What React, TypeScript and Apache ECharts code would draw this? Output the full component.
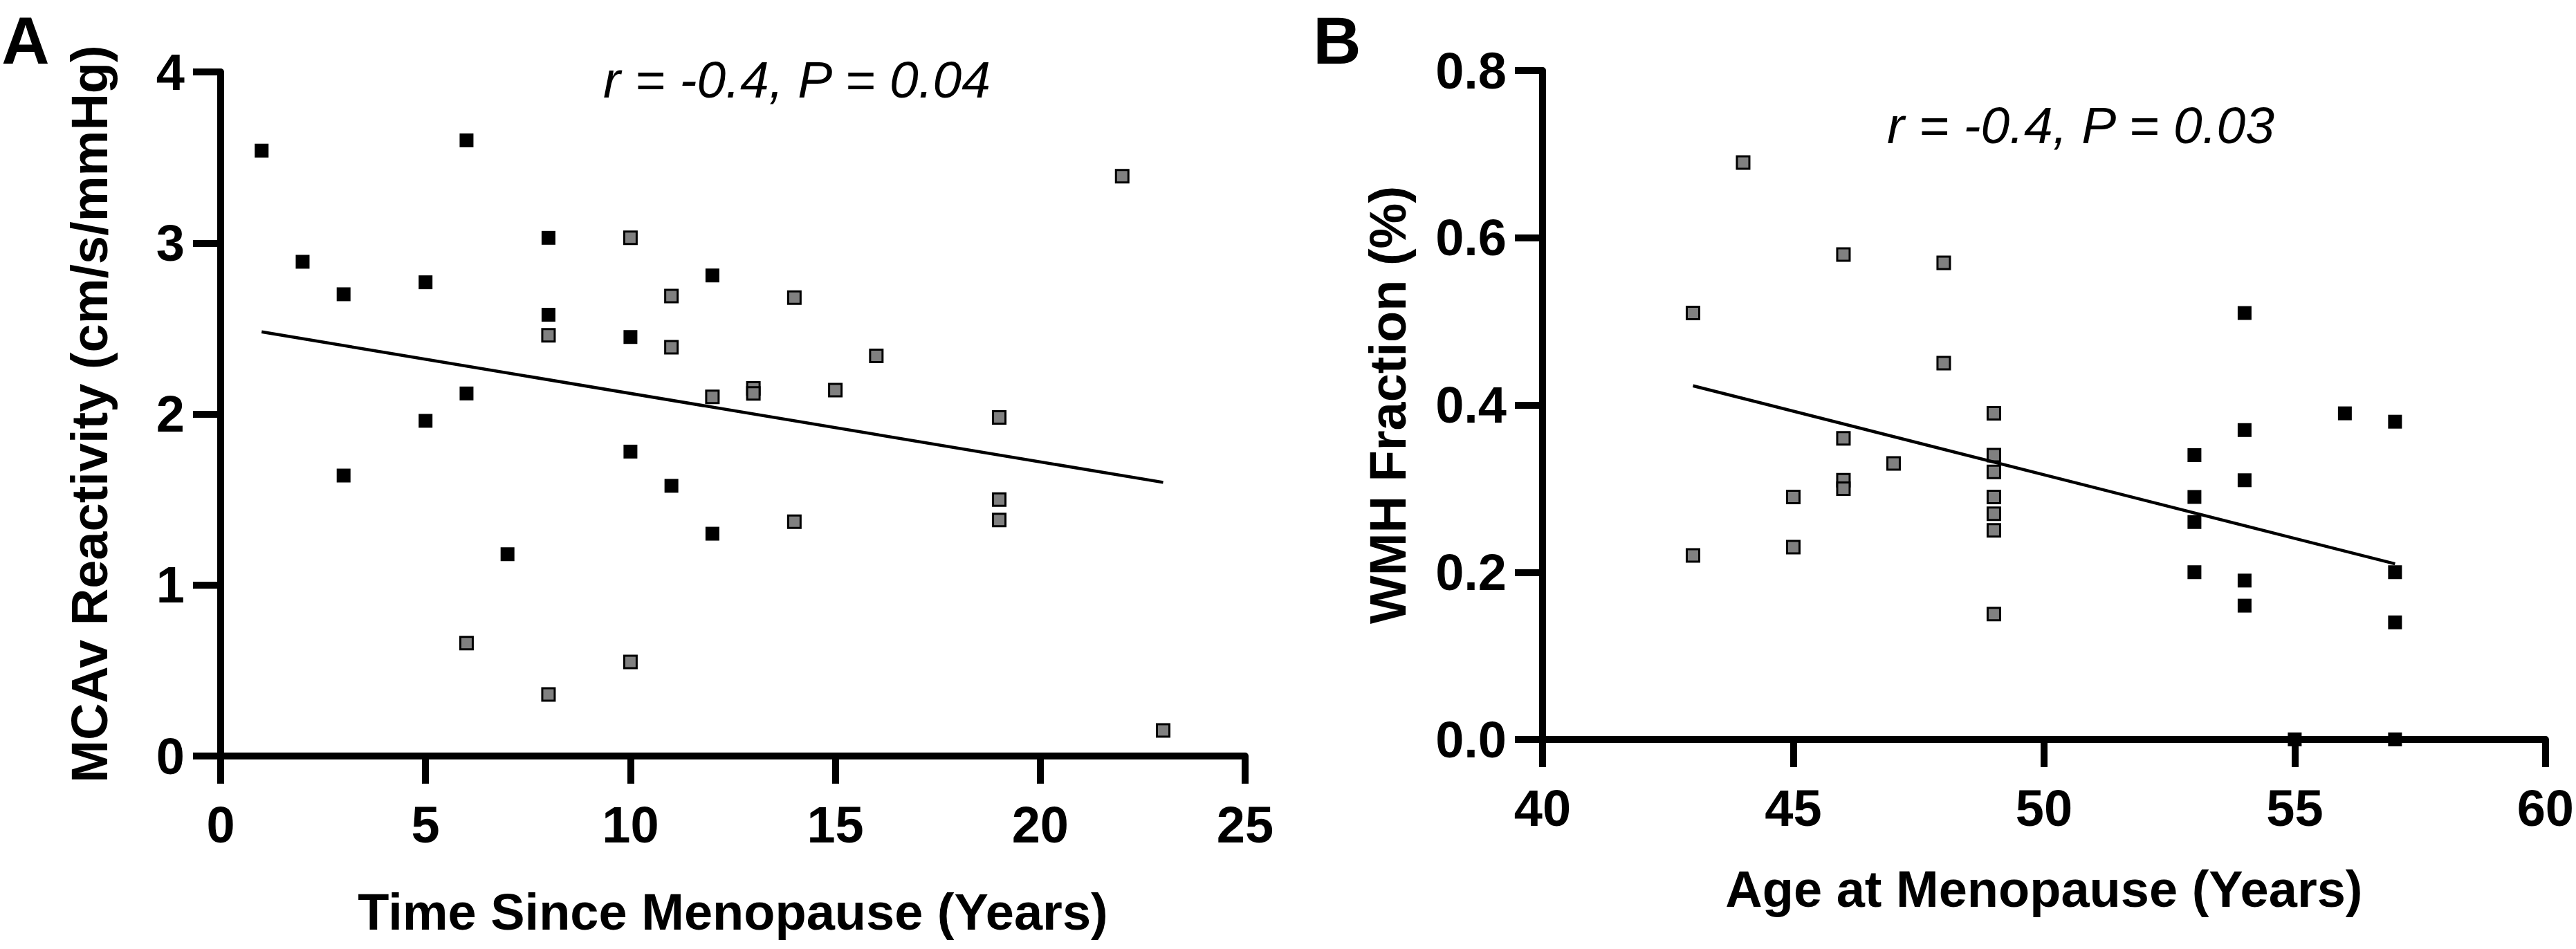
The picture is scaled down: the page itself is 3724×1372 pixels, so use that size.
import React, { useEffect, useRef } from "react";
import * as echarts from "echarts";

// Panel A: Time since menopause (years) vs MCAv reactivity
const aBlack = [[1,3.54],[2,2.89],[3,2.70],[3,1.64],[5,2.77],[5,1.96],[6,3.60],[6,2.12],[7,1.18],[8,3.03],[8,2.58],[10,2.45],[10,1.78],[11,1.58],[12,2.81],[12,1.30]];
const aGray = [[6,0.66],[8,2.46],[8,0.36],[10,3.03],[10,0.55],[11,2.69],[11,2.39],[12,2.10],[13,2.15],[13,2.12],[14,2.68],[14,1.37],[15,2.14],[16,2.34],[19,1.98],[19,1.50],[19,1.38],[22,3.39],[23,0.15]];
const aFit = [[1,2.48],[23,1.60]];
const aStats = "r = -0.4, P = 0.04";

// Panel B: Age at menopause (years) vs WMH fraction
const bBlack = [[53,0.34],[53,0.29],[53,0.26],[53,0.20],[54,0.51],[54,0.37],[54,0.31],[54,0.19],[54,0.16],[55,0],[56,0.39],[57,0.38],[57,0.20],[57,0.14],[57,0]];
const bGray = [[43,0.51],[43,0.22],[44,0.69],[45,0.29],[45,0.23],[46,0.58],[46,0.36],[46,0.31],[46,0.30],[47,0.33],[48,0.57],[48,0.45],[49,0.39],[49,0.34],[49,0.32],[49,0.29],[49,0.27],[49,0.25],[49,0.15]];
const bFit = [[43,0.423],[57,0.21]];
const bStats = "r = -0.4, P = 0.03";

const FONT = "'Liberation Sans', Arial, Helvetica, sans-serif";

export default function App() {
  const ref = useRef<HTMLDivElement>(null);
  useEffect(() => {
    if (!ref.current) return;
    const chart = echarts.init(ref.current, null, { renderer: "svg" });
    const axisCommon = {
      axisLine: { show: true, onZero: false, lineStyle: { color: "#000", width: 10 } },
      axisTick: { show: true, length: 40, lineStyle: { color: "#000", width: 10 } },
      splitLine: { show: false },
      nameLocation: "middle" as const,
      nameTextStyle: { color: "#000", fontSize: 74, fontWeight: "bold", fontFamily: FONT },
    };
    const labelX = { color: "#000", fontSize: 74, fontWeight: "bold", fontFamily: FONT, margin: 62 };
    const labelY = { color: "#000", fontSize: 74, fontWeight: "bold", fontFamily: FONT, margin: 52 };
    const blackSeries = (data: number[][], idx: number) => ({
      type: "scatter", xAxisIndex: idx, yAxisIndex: idx, data, symbol: "rect", symbolSize: 20,
      itemStyle: { color: "#000", opacity: 1 }, clip: false, z: 3,
    });
    const graySeries = (data: number[][], idx: number) => ({
      type: "scatter", xAxisIndex: idx, yAxisIndex: idx, data, symbol: "rect", symbolSize: 18,
      itemStyle: { color: "#808080", borderColor: "#000", borderWidth: 3, opacity: 1 }, clip: false, z: 3,
    });
    const fitSeries = (data: number[][], idx: number) => ({
      type: "line", xAxisIndex: idx, yAxisIndex: idx, data, symbol: "none",
      lineStyle: { color: "#000", width: 4.5 }, z: 4,
    });
    const letter = (text: string, x: number, y: number) => ({
      type: "text", x, y,
      style: { text, fill: "#000", font: `bold 96px ${FONT}`, textAlign: "center", textVerticalAlign: "middle" },
    });
    const stats = (text: string, x: number, y: number) => ({
      type: "text", x, y,
      style: { text, fill: "#000", font: `italic 75px ${FONT}`, textAlign: "center", textVerticalAlign: "middle" },
    });
    chart.setOption({
      animation: false,
      backgroundColor: "#fff",
      grid: [
        { left: 319, top: 104, width: 1481, height: 989 },
        { left: 2230, top: 102, width: 1454, height: 967 },
      ],
      xAxis: [
        { ...axisCommon, gridIndex: 0, type: "value", min: 0, max: 25, interval: 5,
          name: "Time Since Menopause (Years)", nameGap: 188, axisLabel: labelX },
        { ...axisCommon, gridIndex: 1, type: "value", min: 40, max: 60, interval: 5,
          name: "Age at Menopause (Years)", nameGap: 179, axisLabel: labelX },
      ],
      yAxis: [
        { ...axisCommon, gridIndex: 0, type: "value", min: 0, max: 4, interval: 1,
          name: "MCAv Reactivity (cm/s/mmHg)", nameGap: 153, axisLabel: labelY },
        { ...axisCommon, gridIndex: 1, type: "value", min: 0, max: 0.8, interval: 0.2,
          name: "WMH Fraction (%)", nameGap: 187,
          axisLabel: { ...labelY, formatter: (v: number) => v.toFixed(1) } },
      ],
      graphic: [
        letter("A", 37, 58),
        letter("B", 1933, 58),
        stats(aStats, 1152, 115),
        stats(bStats, 3008, 181),
      ],
      series: [
        blackSeries(aBlack, 0), graySeries(aGray, 0), fitSeries(aFit, 0),
        blackSeries(bBlack, 1), graySeries(bGray, 1), fitSeries(bFit, 1),
      ],
    });
    return () => chart.dispose();
  }, []);
  return <div ref={ref} style={{ position: "absolute", left: 0, top: 0, width: 3724, height: 1372 }} />;
}
